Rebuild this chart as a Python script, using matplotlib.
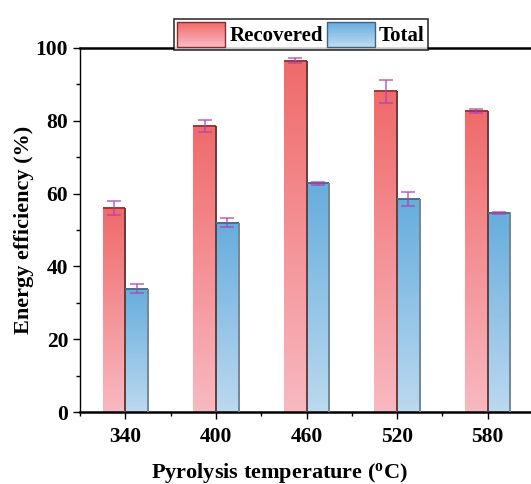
import numpy as np
import matplotlib.pyplot as plt
from matplotlib.colors import LinearSegmentedColormap
from matplotlib.patches import Rectangle
from matplotlib.legend_handler import HandlerBase
from matplotlib.ticker import MultipleLocator, AutoMinorLocator

plt.rcParams['font.family'] = ['Liberation Serif', 'DejaVu Serif']
plt.rcParams['font.weight'] = 'bold'

temps = ['340', '400', '460', '520', '580']
recovered = [56.0, 78.6, 96.5, 88.1, 82.7]
recovered_err = [1.9, 1.7, 0.7, 3.1, 0.6]
total = [33.9, 52.0, 62.8, 58.5, 54.7]
total_err = [1.2, 1.2, 0.4, 2.0, 0.3]

red_cmap = LinearSegmentedColormap.from_list('red', ['#f8b9c1', '#f06a6a'])
blue_cmap = LinearSegmentedColormap.from_list('blue', ['#bcd9ef', '#66addd'])

fig = plt.figure(figsize=(5.31, 4.84), dpi=100)
ax = fig.add_axes([80 / 531, 72 / 484, 453 / 531, 364 / 484])

x = np.arange(len(temps))
w = 0.25
grad = np.linspace(0, 1, 256).reshape(-1, 1)


def gradient_bars(xs, heights, cmap, edge, shade):
    # each bar runs pale at the base to full colour at its own top
    bars = ax.bar(xs, heights, w, color='none', edgecolor='none', zorder=2)
    for b in bars:
        x0 = b.get_x()
        bw, bh = b.get_width(), b.get_height()
        ax.imshow(grad, cmap=cmap, origin='lower', aspect='auto',
                  extent=[x0, x0 + bw, 0, bh], zorder=1)
        ax.plot([x0, x0 + bw], [bh, bh], color=edge, lw=1.4, zorder=3,
                solid_capstyle='butt')
        ax.plot([x0 + bw, x0 + bw], [0, bh], color=shade, lw=1.4, zorder=3,
                solid_capstyle='butt')
    return bars


gradient_bars(x - w / 2, recovered, red_cmap, '#a03838', '#6a3a3a')
gradient_bars(x + w / 2, total, blue_cmap, '#4a6f8a', '#6f8799')

ax.errorbar(x - w / 2, recovered, yerr=recovered_err, fmt='none',
            ecolor='#b040b0', alpha=0.75, elinewidth=1.2, capsize=5, capthick=1.2, zorder=4)
ax.errorbar(x + w / 2, total, yerr=total_err, fmt='none',
            ecolor='#b040b0', alpha=0.75, elinewidth=1.2, capsize=5, capthick=1.2, zorder=4)

ax.set_xlim(-0.5, len(temps) - 0.5)
ax.set_ylim(0, 100)
ax.set_xticks(x)
ax.set_xticklabels(temps)
ax.xaxis.set_minor_locator(MultipleLocator(0.5))
ax.yaxis.set_major_locator(MultipleLocator(20))
ax.yaxis.set_minor_locator(AutoMinorLocator(2))
ax.tick_params(axis='both', which='major', direction='out', length=5, width=1,
               labelsize=15.5)
ax.tick_params(axis='both', which='minor', direction='out', length=3, width=1)
ax.tick_params(axis='x', which='major', pad=6)
for lab in ax.get_xticklabels() + ax.get_yticklabels():
    lab.set_fontweight('bold')

ax.spines['bottom'].set_linewidth(1.8)
ax.spines['top'].set_linewidth(1.8)
ax.spines['left'].set_linewidth(1.0)
ax.spines['right'].set_linewidth(1.0)

ax.set_xlabel('Pyrolysis temperature ($\\mathregular{^{o}}$C)', fontsize=16,
              fontweight='bold')
ax.xaxis.set_label_coords(199 / 453, -49 / 364)
ax.set_ylabel('Energy efficiency (%)', fontsize=16, fontweight='bold', labelpad=1)


class GradientHandler(HandlerBase):
    def __init__(self, cmap, edge):
        super().__init__()
        self.cmap = cmap
        self.edge = edge

    def create_artists(self, legend, orig_handle, xdescent, ydescent, width,
                       height, fontsize, trans):
        n = 20
        arts = []
        for i in range(n):
            r = Rectangle((-xdescent, -ydescent + height * i / n), width, height / n,
                          facecolor=self.cmap(i / (n - 1)), edgecolor='none',
                          transform=trans)
            arts.append(r)
        arts.append(Rectangle((-xdescent, -ydescent), width, height,
                              facecolor='none', edgecolor=self.edge, lw=1,
                              transform=trans))
        return arts


h_red = Rectangle((0, 0), 1, 1)
h_blue = Rectangle((0, 0), 1, 1)
leg = ax.legend([h_red, h_blue], ['Recovered', 'Total'],
                handler_map={h_red: GradientHandler(red_cmap, '#8a2a2a'),
                             h_blue: GradientHandler(blue_cmap, '#3f6482')},
                ncol=2, loc='lower left', bbox_to_anchor=(94 / 453, 0.995),
                frameon=True, fancybox=False, edgecolor='black',
                prop={'weight': 'bold', 'size': 15}, handlelength=2.3,
                handleheight=1.45, columnspacing=0.2, handletextpad=0.2,
                borderpad=0.15, borderaxespad=0)
leg.get_frame().set_linewidth(1.2)

fig.savefig('out.png', dpi=100)
